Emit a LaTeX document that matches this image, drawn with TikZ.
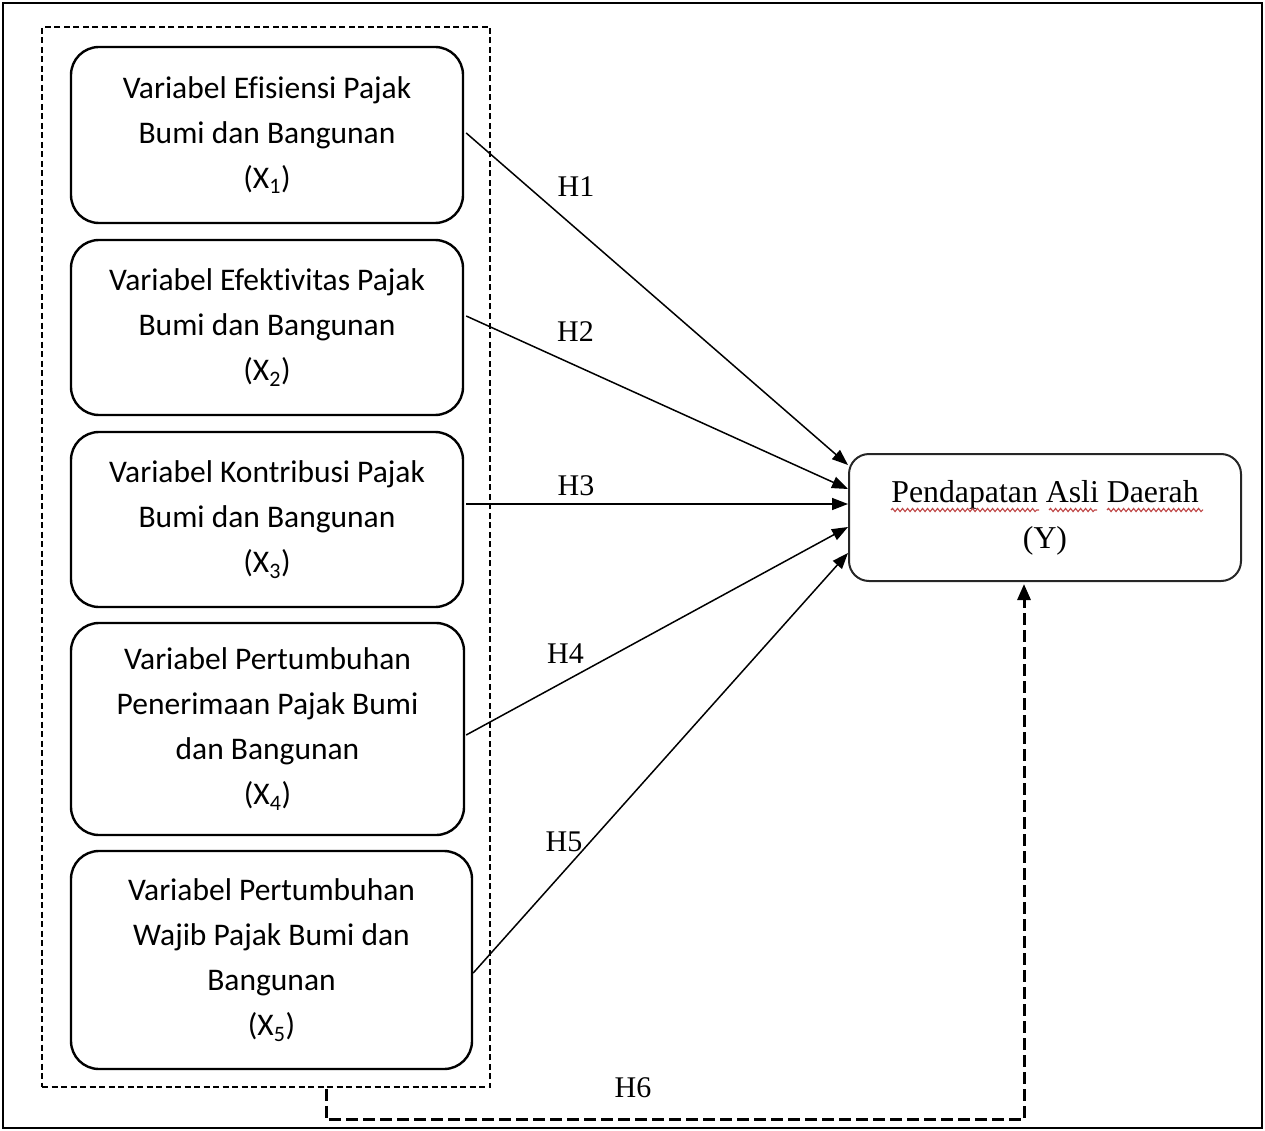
\documentclass[tikz,border=0pt]{standalone}
\usepackage{fontspec}
\setmainfont{Liberation Serif}
\newfontfamily\calib[Ligatures=NoCommon]{Carlito}
\usetikzlibrary{arrows.meta,calc,decorations.pathmorphing}
\definecolor{spellred}{RGB}{190,70,70}
\begin{document}
\begin{tikzpicture}[x=1pt,y=-1pt,
  varbox/.style={draw=black,line width=2.4pt,rounded corners=28pt,align=center,
    font=\calib\fontsize{31.5}{45}\selectfont,inner sep=0pt},
  ybox/.style={draw=black!85,line width=2pt,rounded corners=20pt,align=center,
    font=\fontsize{31.8}{46}\selectfont,inner sep=0pt},
  harrow/.style={line width=1.5pt,-{Triangle[length=16pt,width=12pt]}},
  hlabel/.style={font=\fontsize{30}{36}\selectfont,anchor=base,inner sep=0pt},
  grpbox/.style={draw=black,line width=1.6pt,dash pattern=on 6pt off 3.5pt},
  h6line/.style={line width=3pt,dash pattern=on 12pt off 5pt,-{Triangle[length=16pt,width=13pt]}},
  spell/.style={draw=spellred,line width=1.1pt,decorate,decoration={snake,amplitude=1.6pt,segment length=5pt}}
]
\useasboundingbox (0,0) rectangle (1265,1131);
\draw[line width=2.5pt] (3,3) rectangle (1262,1128);

\node[grpbox,minimum width=448pt,minimum height=1060pt,inner sep=0pt] (grp) at (266,557) {};

\node[varbox,minimum width=392pt,minimum height=176pt] (x1) at (267,135)
  {Variabel Efisiensi Pajak\\Bumi dan Bangunan\\(X\textsubscript{1})};
\node[varbox,minimum width=392pt,minimum height=175pt] (x2) at (267,327.5)
  {Variabel Efektivitas Pajak\\Bumi dan Bangunan\\(X\textsubscript{2})};
\node[varbox,minimum width=392pt,minimum height=175pt] (x3) at (267,519.5)
  {Variabel Kontribusi Pajak\\Bumi dan Bangunan\\(X\textsubscript{3})};
\node[varbox,minimum width=393pt,minimum height=212pt] (x4) at (267.5,729)
  {Variabel Pertumbuhan\\Penerimaan Pajak Bumi\\dan Bangunan\\(X\textsubscript{4})};
\node[varbox,minimum width=401pt,minimum height=218pt] (x5) at (271.5,960)
  {Variabel Pertumbuhan\\Wajib Pajak Bumi dan\\Bangunan\\(X\textsubscript{5})};

\node[ybox,minimum width=392pt,minimum height=127pt] (y) at (1045,517.5)
  {Pendapatan Asli Daerah\\(Y)};
\coordinate (w1) at (891,510);
\coordinate (w2) at (1039,510);
\coordinate (w3) at (1049,510);
\coordinate (w4) at (1097,510);
\coordinate (w5) at (1107,510);
\coordinate (w6) at (1203,510);
\path[spell] (w1) -- (w2);
\path[spell] (w3) -- (w4);
\path[spell] (w5) -- (w6);

\draw[harrow] ($(x1.east)+(2,-2)$) -- ($(y.west)+(0,-52.5)$);
\draw[harrow] ($(x2.east)+(2,-11.5)$) -- ($(y.west)+(0,-28.5)$);
\draw[harrow] ($(x3.east)+(2,-15.5)$) -- ($(y.west)+(0,-13.5)$);
\draw[harrow] ($(x4.east)+(1,6)$) -- ($(y.west)+(0,9.5)$);
\draw[harrow] ($(x5.east)+(0,13)$) -- ($(y.west)+(0,35.5)$);

\node[hlabel] (h1) at (576,197) {H1};
\node[hlabel] (h2) at (575.5,341) {H2};
\node[hlabel] (h3) at (576,495) {H3};
\node[hlabel] (h4) at (565.5,663) {H4};
\node[hlabel] (h5) at (564,851) {H5};
\node[hlabel] (h6) at (633,1097) {H6};

\draw[h6line] ($(grp.south west)+(285,1)$) -- ++(0,31) -| ($(y.south)+(-21,2)$);
\end{tikzpicture}
\end{document}
